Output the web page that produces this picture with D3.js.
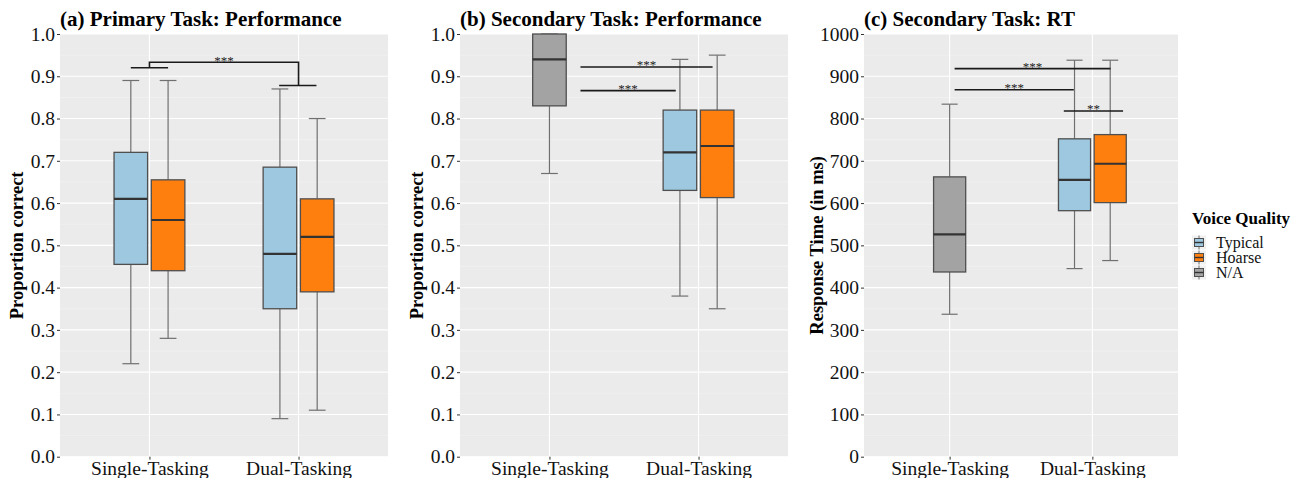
<!DOCTYPE html>
<html>
<head>
<meta charset="utf-8">
<script src="https://cdn.jsdelivr.net/npm/d3@7"></script>
<style>
  html, body { margin: 0; padding: 0; background: #fff; }
  svg { display: block; font-family: 'Liberation Serif', 'Times New Roman', serif; }
</style>
</head>
<body>
<div id="chart"></div>
<script>
(function () {
  'use strict';

  // ---- data ----
  var categories  = ['Single-Tasking', 'Dual-Tasking'];
  var voiceGroups = ['Typical', 'Hoarse', 'N/A'];

  // [condition, voice, lower whisker, q1, median, q3, upper whisker]
  var primaryStats = [
    ['Single-Tasking', 'Typical', 0.22, 0.455, 0.61, 0.72, 0.89],
    ['Single-Tasking', 'Hoarse',  0.28, 0.44,  0.56, 0.655, 0.89],
    ['Dual-Tasking',   'Typical', 0.09, 0.35,  0.48, 0.685, 0.87],
    ['Dual-Tasking',   'Hoarse',  0.11, 0.39,  0.52, 0.61, 0.80]
  ];
  var secondaryStats = [
    ['Single-Tasking', 'N/A',     0.67, 0.83,  0.94,  1.00, 1.00],
    ['Dual-Tasking',   'Typical', 0.38, 0.63,  0.72,  0.82, 0.94],
    ['Dual-Tasking',   'Hoarse',  0.35, 0.613, 0.735, 0.82, 0.95]
  ];
  var rtStats = [
    ['Single-Tasking', 'N/A',     337, 437, 526, 662, 834],
    ['Dual-Tasking',   'Typical', 445, 582, 655, 752, 938],
    ['Dual-Tasking',   'Hoarse',  464, 601, 693, 762, 938]
  ];

  // significance lines: [from cat, from offset, to cat, to offset, y, label]
  var primaryPairs = [
    ['Single-Tasking', -0.125, 'Single-Tasking', 0.125, 0.92, ''],
    ['Dual-Tasking',   -0.13,  'Dual-Tasking',   0.12,  0.878, '']
  ];
  // bracket joining the two pair lines: [y at single, top y, y at dual]
  var primaryBracket = [0.92, 0.933, 0.878];
  var primaryBracketLabel = '***';

  var secondaryPairs = [
    ['Single-Tasking', 0.208, 'Dual-Tasking',  0.094, 0.922, '***'],
    ['Single-Tasking', 0.208, 'Dual-Tasking', -0.153, 0.866, '***']
  ];
  var rtPairs = [
    ['Single-Tasking', 0.035, 'Dual-Tasking',  0.127, 918, '***'],
    ['Single-Tasking', 0.035, 'Dual-Tasking', -0.13,  868, '***'],
    ['Dual-Tasking',  -0.2,   'Dual-Tasking',  0.215, 818, '**']
  ];

  var propTicks = d3.range(0, 11).map(function (i) { return i / 10; });
  var rtTicks   = d3.range(0, 11).map(function (i) { return i * 100; });

  // ---- style ----
  var COL = {
    fill:    { 'Typical': '#9dc8df', 'Hoarse': '#ff7f0e', 'N/A': '#a3a3a3' },
    panel:   '#ebebeb',
    grid:    '#ffffff',
    outline: '#4f4f4f',
    median:  '#333333',
    whisker: '#707070',
    sig:     '#1a1a1a',
    text:    '#111111',
    tick:    '#333333'
  };
  var DODGE = { 'Typical': -0.125, 'Hoarse': 0.125, 'N/A': 0 };
  var BOX_W = 0.225;
  var TOP = 34, BOTTOM = 456.7;
  var FONT = 'Liberation Serif, Times New Roman, serif';

  var W = 1309, H = 478;
  var svg = d3.select('#chart').append('svg')
    .attr('width', W).attr('height', H)
    .attr('viewBox', '0 0 ' + W + ' ' + H);

  function drawPanel(o) {
    var y = d3.scaleLinear().domain(o.domain).range([BOTTOM, TOP]);
    var x = d3.scalePoint().domain(categories).range([o.x0, o.x1]).padding(0.6);
    var step = x.step();
    function px(cat, off) { return x(cat) + off * step; }

    var g = svg.append('g');

    g.append('rect')
      .attr('x', o.x0).attr('y', TOP)
      .attr('width', o.x1 - o.x0).attr('height', BOTTOM - TOP)
      .attr('fill', COL.panel);

    // minor grid
    var minor = o.ticks.slice(0, -1).map(function (t, i) { return (t + o.ticks[i + 1]) / 2; });
    g.selectAll('line.minor').data(minor).join('line')
      .attr('x1', o.x0).attr('x2', o.x1)
      .attr('y1', function (d) { return y(d); }).attr('y2', function (d) { return y(d); })
      .attr('stroke', '#f4f4f4').attr('stroke-width', 0.6);
    // major grid
    g.selectAll('line.major').data(o.ticks).join('line')
      .attr('x1', o.x0).attr('x2', o.x1)
      .attr('y1', function (d) { return y(d); }).attr('y2', function (d) { return y(d); })
      .attr('stroke', COL.grid).attr('stroke-width', 1.1);
    g.selectAll('line.vgrid').data(categories).join('line')
      .attr('x1', function (d) { return x(d); }).attr('x2', function (d) { return x(d); })
      .attr('y1', TOP).attr('y2', BOTTOM)
      .attr('stroke', COL.grid).attr('stroke-width', 1.1);

    // boxes
    var bw = BOX_W * step;
    o.stats.forEach(function (s) {
      var cx = px(s[0], DODGE[s[1]]);
      var bg = g.append('g');
      bg.append('line')
        .attr('x1', cx).attr('x2', cx).attr('y1', y(s[6])).attr('y2', y(s[5]))
        .attr('stroke', COL.whisker).attr('stroke-width', 1.2);
      bg.append('line')
        .attr('x1', cx).attr('x2', cx).attr('y1', y(s[3])).attr('y2', y(s[2]))
        .attr('stroke', COL.whisker).attr('stroke-width', 1.2);
      [s[2], s[6]].forEach(function (v) {
        bg.append('line')
          .attr('x1', cx - bw / 4).attr('x2', cx + bw / 4)
          .attr('y1', y(v)).attr('y2', y(v))
          .attr('stroke', COL.whisker).attr('stroke-width', 1.2);
      });
      bg.append('rect')
        .attr('x', cx - bw / 2).attr('width', bw)
        .attr('y', y(s[5])).attr('height', y(s[3]) - y(s[5]))
        .attr('fill', COL.fill[s[1]])
        .attr('stroke', COL.outline).attr('stroke-width', 1.3);
      bg.append('line')
        .attr('x1', cx - bw / 2).attr('x2', cx + bw / 2)
        .attr('y1', y(s[4])).attr('y2', y(s[4]))
        .attr('stroke', COL.median).attr('stroke-width', 2.2);
    });

    // significance lines
    o.pairs.forEach(function (p) {
      var xa = px(p[0], p[1]), xb = px(p[2], p[3]);
      g.append('line')
        .attr('x1', xa).attr('x2', xb).attr('y1', y(p[4])).attr('y2', y(p[4]))
        .attr('stroke', COL.sig).attr('stroke-width', 1.6);
      if (p[5]) {
        g.append('text')
          .attr('x', (xa + xb) / 2).attr('y', y(p[4]) + 2.5)
          .attr('text-anchor', 'middle').attr('font-size', 13)
          .attr('fill', '#222').text(p[5]);
      }
    });
    if (o.bracket) {
      var xs = x(categories[0]), xd = x(categories[1]);
      g.append('path')
        .attr('d', d3.line()([
          [xs, y(o.bracket[0])], [xs, y(o.bracket[1])],
          [xd, y(o.bracket[1])], [xd, y(o.bracket[2])]
        ]))
        .attr('fill', 'none').attr('stroke', COL.sig).attr('stroke-width', 1.6);
      g.append('text')
        .attr('x', (xs + xd) / 2).attr('y', y(o.bracket[1]) + 2.5)
        .attr('text-anchor', 'middle').attr('font-size', 13)
        .attr('fill', '#222').text(o.bracketLabel);
    }

    // axes
    g.append('g')
      .attr('transform', 'translate(' + o.x0 + ',0)')
      .call(d3.axisLeft(y).tickValues(o.ticks).tickFormat(o.fmt).tickSize(3).tickPadding(2))
      .call(function (ax) {
        ax.select('.domain').remove();
        ax.selectAll('.tick line').attr('stroke', COL.tick);
        ax.selectAll('text').attr('font-size', 19.5).attr('fill', COL.text)
          .attr('font-family', FONT);
      });
    g.append('g')
      .attr('transform', 'translate(0,' + BOTTOM + ')')
      .call(d3.axisBottom(x).tickSize(3).tickPadding(1.5))
      .call(function (ax) {
        ax.select('.domain').remove();
        ax.selectAll('.tick line').attr('stroke', COL.tick);
        ax.selectAll('text').attr('font-size', 19.5).attr('fill', COL.text)
          .attr('font-family', FONT);
      });

    // titles
    g.append('text')
      .attr('x', o.x0).attr('y', 26)
      .attr('font-size', 21).attr('font-weight', 700).attr('fill', '#000')
      .text(o.title);
    g.append('text')
      .attr('transform', 'translate(' + o.yTitleX + ',' + ((TOP + BOTTOM) / 2) + ') rotate(-90)')
      .attr('text-anchor', 'middle')
      .attr('font-size', 18.5).attr('font-weight', 700).attr('fill', '#000')
      .text(o.yTitle);
  }

  var fmtProp = d3.format('.1f');

  drawPanel({
    x0: 60, x1: 388, domain: [0, 1], ticks: propTicks, fmt: fmtProp,
    title: '(a) Primary Task: Performance', yTitle: 'Proportion correct', yTitleX: 23,
    stats: primaryStats, pairs: primaryPairs,
    bracket: primaryBracket, bracketLabel: primaryBracketLabel
  });
  drawPanel({
    x0: 460, x1: 788, domain: [0, 1], ticks: propTicks, fmt: fmtProp,
    title: '(b) Secondary Task: Performance', yTitle: 'Proportion correct', yTitleX: 423,
    stats: secondaryStats, pairs: secondaryPairs
  });
  drawPanel({
    x0: 864, x1: 1178, domain: [0, 1000], ticks: rtTicks, fmt: d3.format('d'),
    title: '(c) Secondary Task: RT', yTitle: 'Response Time (in ms)', yTitleX: 823,
    stats: rtStats, pairs: rtPairs
  });

  // legend
  var lg = svg.append('g').attr('transform', 'translate(1192,0)');
  lg.append('text')
    .attr('x', 0).attr('y', 224)
    .attr('font-size', 17).attr('font-weight', 700).attr('fill', '#000')
    .text('Voice Quality');
  voiceGroups.forEach(function (grp, i) {
    var cy = 242.5 + i * 15;
    var k = lg.append('g');
    k.append('rect').attr('x', 0).attr('y', cy - 7).attr('width', 14).attr('height', 14)
      .attr('fill', '#f0f0f0');
    k.append('line').attr('x1', 7).attr('x2', 7).attr('y1', cy - 7).attr('y2', cy + 7)
      .attr('stroke', COL.whisker).attr('stroke-width', 1);
    k.append('rect').attr('x', 2.5).attr('y', cy - 4).attr('width', 9).attr('height', 8)
      .attr('fill', COL.fill[grp]).attr('stroke', COL.outline).attr('stroke-width', 1);
    k.append('line').attr('x1', 2.5).attr('x2', 11.5).attr('y1', cy).attr('y2', cy)
      .attr('stroke', COL.median).attr('stroke-width', 1.4);
    lg.append('text')
      .attr('x', 24).attr('y', cy + 5)
      .attr('font-size', 16).attr('fill', COL.text)
      .text(grp);
  });
}());
</script>
</body>
</html>
